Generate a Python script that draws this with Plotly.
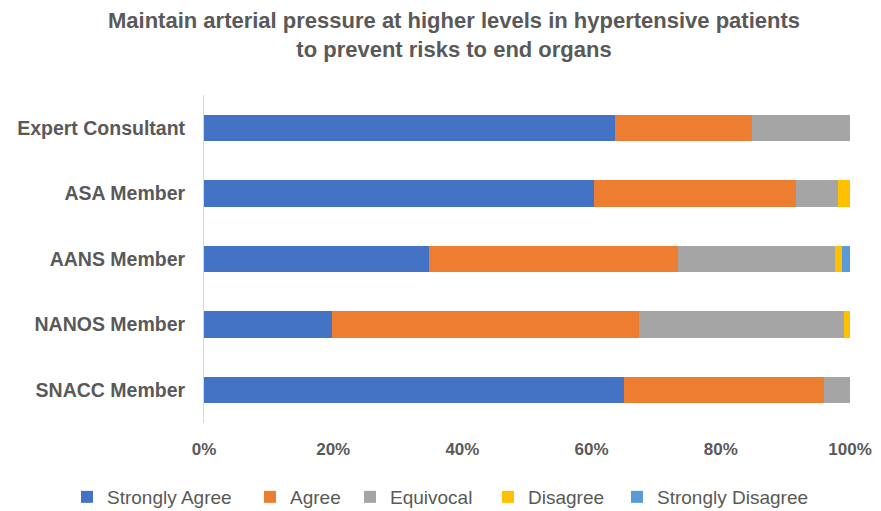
import plotly.graph_objects as go

categories = ["Expert Consultant", "ASA Member", "AANS Member", "NANOS Member", "SNACC Member"]
strongly_agree = [63.6, 60.4, 34.9, 19.8, 65.0]
agree = [21.2, 31.2, 38.4, 47.6, 30.9]
equivocal = [15.2, 6.6, 24.4, 31.7, 4.1]
disagree = [0.0, 1.8, 1.1, 0.9, 0.0]
strongly_disagree = [0.0, 0.0, 1.2, 0.0, 0.0]
x_ticks = [0, 0.2, 0.4, 0.6, 0.8, 1.0]

series = [
    ("Strongly Agree", strongly_agree, "#4472C4"),
    ("Agree", agree, "#ED7D31"),
    ("Equivocal", equivocal, "#A5A5A5"),
    ("Disagree", disagree, "#FFC000"),
    ("Strongly Disagree", strongly_disagree, "#5B9BD5"),
]
# left edge (px) of each legend entry along the bottom row
legend_left_px = [67, 250, 350, 488, 617]

font_fam = "Liberation Sans, Arial, sans-serif"
W, H = 881, 511

fig = go.Figure()
legend_layout = {}
for i, (name, vals, col) in enumerate(series):
    key = "legend" if i == 0 else f"legend{i + 1}"
    fig.add_trace(go.Bar(
        y=categories, x=[v / 100 for v in vals], name=name, orientation="h",
        marker=dict(color=col, line=dict(width=0)), legend=key, showlegend=True,
    ))
    legend_layout[key] = dict(
        orientation="h", xref="container", yref="container",
        x=legend_left_px[i] / W, xanchor="left", y=(H - 497) / H, yanchor="middle",
        font=dict(family=font_fam, size=19, color="#595959"),
        itemwidth=30, bgcolor="rgba(0,0,0,0)", visible=True,
    )

fig.add_annotation(
    text="<b>Maintain arterial pressure at higher levels in hypertensive patients<br>to prevent risks to end organs</b>",
    xref="paper", yref="paper", x=0.387, y=1.183, xanchor="center", yanchor="middle",
    showarrow=False, align="center",
    font=dict(family=font_fam, size=22, color="#595959"),
)

fig.update_layout(
    showlegend=True,
    barmode="stack",
    bargap=0.6,
    width=W, height=H,
    margin=dict(l=204, r=31, t=95, b=88, autoexpand=False),
    paper_bgcolor="white", plot_bgcolor="white",
    xaxis=dict(
        range=[0, 1], tickvals=x_ticks, tickformat=".0%", showgrid=False, zeroline=False,
        showline=False, ticks="", ticklabelstandoff=14,
        tickfont=dict(family=font_fam, size=17, color="#595959", weight="bold"),
    ),
    yaxis=dict(
        autorange="reversed", showgrid=False, showline=True, linecolor="#D9D9D9",
        linewidth=1, ticks="", ticklabelstandoff=14,
        tickfont=dict(family=font_fam, size=19.5, color="#595959", weight="bold"),
    ),
    **legend_layout,
)

fig.write_html("out.html")
